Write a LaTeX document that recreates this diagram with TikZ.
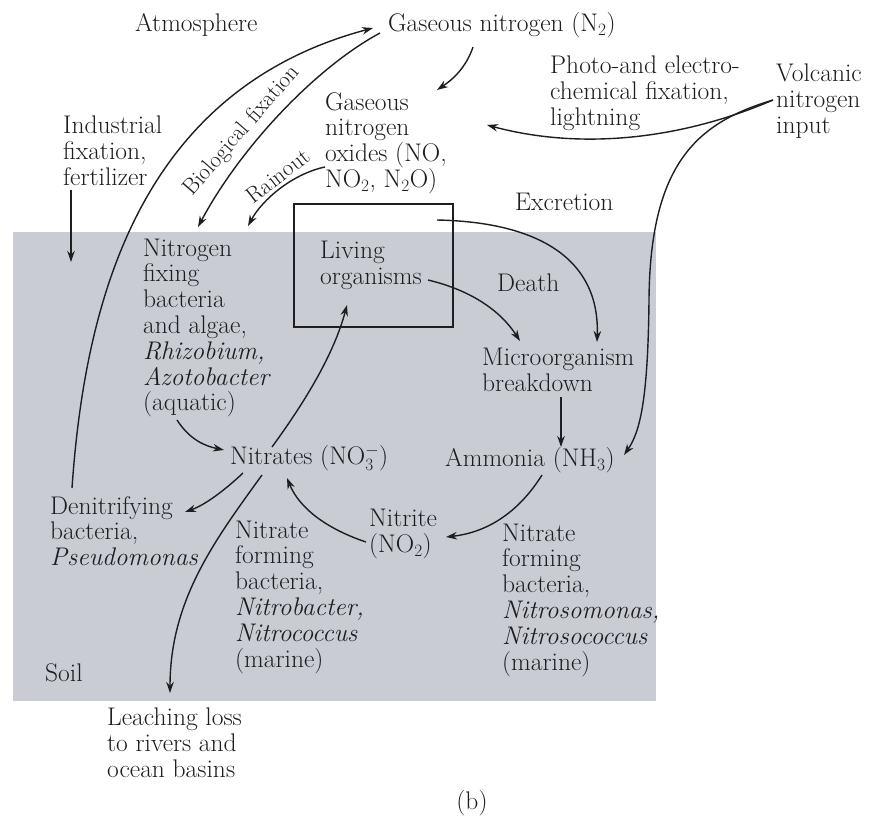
\documentclass[tikz,border=0pt]{standalone}
\usetikzlibrary{arrows.meta}
\definecolor{soilgray}{RGB}{201,205,211}
\definecolor{ink}{RGB}{30,30,33}
\begin{document}
\begin{tikzpicture}[x=1pt,y=-1pt,
  lab/.style={font=\fontsize{25.5}{25.8}\selectfont, inner sep=0pt, align=left, anchor=west, text=ink},
  rlab/.style={font=\fontsize{22.8}{24}\selectfont, inner sep=0pt, anchor=center, text=ink},
  arr/.style={draw=ink, line width=1.4pt, -{Stealth[length=11pt,width=7.5pt]}},
  ln/.style={draw=ink, line width=1.4pt}]
\useasboundingbox (0,0) rectangle (873,816);
\fill[white] (0,0) rectangle (873,816);
\fill[soilgray] (13,232) rectangle (656,701);

% labels
\node[lab] (atm) at (135,25) {Atmosphere};
\node[lab] (n2) at (388,25) {Gaseous nitrogen (N$_2$)};
\node[lab] (oxides) at (325,143) {Gaseous\\nitrogen\\oxides (NO,\\NO$_2$, N$_2$O)};
\node[lab] (photo) at (550,93) {Photo-and electro-\\chemical fixation,\\lightning};
\node[lab] (volc) at (776,101) {Volcanic\\nitrogen\\input};
\node[lab] (indus) at (63,151) {Industrial\\fixation,\\fertilizer};
\node[rlab, rotate=49] (bio) at (242,131) {Biological fixation};
\node[rlab, rotate=38] (rain) at (278,176) {Rainout};
\node[lab] (excr) at (515,202) {Excretion};
\node[draw=ink, line width=1.4pt, minimum width=159pt, minimum height=123pt, inner sep=0pt] (box) at (373.5,265.5) {};
\node[lab] (living) at (320,265) {Living\\organisms};
\node[lab] (death) at (497,283) {Death};
\node[lab] (micro) at (482,370) {Microorganism\\breakdown};
\node[lab] (ammonia) at (445,460) {Ammonia (NH$_3$)};
\node[lab] (nfix) at (143,328) {Nitrogen\\fixing\\bacteria\\and algae,\\\textit{Rhizobium,}\\\textit{Azotobacter}\\(aquatic)};
\node[lab] (nitrates) at (230,458) {Nitrates (NO$_3^-$)};
\node[lab] (denit) at (50,531) {Denitrifying\\bacteria,\\\textit{Pseudomonas}};
\node[lab] (nfl) at (235,597) {Nitrate\\forming\\bacteria,\\\textit{Nitrobacter,}\\\textit{Nitrococcus}\\(marine)};
\node[lab] (nitrite) at (369,534) {Nitrite\\(NO$_2$)};
\node[lab] (nfr) at (502,600) {Nitrate\\forming\\bacteria,\\\textit{Nitrosomonas,}\\\textit{Nitrosococcus}\\(marine)};
\node[lab] (soil) at (45,673) {Soil};
\node[lab] (leach) at (107,743) {Leaching loss\\to rivers and\\ocean basins};
\node[lab, anchor=center] (b) at (472,803) {(b)};

% connector end points
\coordinate (denitTop) at (72,488);
\coordinate (n2In) at (373,28);
\coordinate (n2Out) at (380,33);
\coordinate (nfixTop) at (198,227);
\coordinate (oxOut) at (325,167);
\coordinate (nfixTop2) at (248,226);
\coordinate (n2Out2) at (473,47);
\coordinate (oxIn) at (437,90);
\coordinate (volcOut) at (773,100);
\coordinate (photoIn) at (487,125);
\coordinate (ammIn) at (624,455);
\coordinate (indusOut) at (71,190);
\coordinate (indusIn) at (71,262);
\coordinate (boxExc) at (437,220);
\coordinate (microIn) at (597,342);
\coordinate (livOut) at (428,280);
\coordinate (microIn2) at (520,341);
\coordinate (microOut) at (561,397);
\coordinate (ammTop) at (561,447);
\coordinate (ammOut) at (542,475);
\coordinate (nitriteIn) at (446,537);
\coordinate (nitriteOut) at (366,542);
\coordinate (nitratesIn) at (287,478);
\coordinate (nitratesOut) at (272,447);
\coordinate (livIn) at (347,305);
\coordinate (aqOut) at (177,420);
\coordinate (nitratesIn2) at (224,450);
\coordinate (nitratesOut2) at (243,473);
\coordinate (denitIn) at (185,512);
\coordinate (nitratesOut3) at (262,475);
\coordinate (leachIn) at (170,693);

% connectors
\draw[arr] (denitTop) .. controls (85,300) and (140,90) .. (n2In);
\draw[arr] (n2Out) .. controls (315,68) and (240,148) .. (nfixTop);
\draw[arr] (oxOut) .. controls (292,174) and (262,200) .. (nfixTop2);
\draw[arr] (n2Out2) .. controls (466,68) and (452,80) .. (oxIn);
\draw[arr] (volcOut) .. controls (680,140) and (580,150) .. (photoIn);
\draw[arr] (volcOut) .. controls (700,122) and (650,160) .. (649,300) .. controls (648,400) and (640,432) .. (ammIn);
\draw[arr] (indusOut) -- (indusIn);
\draw[arr] (boxExc) .. controls (540,222) and (600,260) .. (microIn);
\draw[arr] (livOut) .. controls (470,290) and (500,310) .. (microIn2);
\draw[arr] (microOut) -- (ammTop);
\draw[arr] (ammOut) .. controls (520,510) and (490,532) .. (nitriteIn);
\draw[arr] (nitriteOut) .. controls (330,530) and (300,510) .. (nitratesIn);
\draw[arr] (nitratesOut) .. controls (310,395) and (335,350) .. (livIn);
\draw[arr] (aqOut) .. controls (190,440) and (205,446) .. (nitratesIn2);
\draw[arr] (nitratesOut2) .. controls (225,490) and (205,505) .. (denitIn);
\draw[arr] (nitratesOut3) .. controls (215,540) and (170,600) .. (leachIn);
\end{tikzpicture}
\end{document}
